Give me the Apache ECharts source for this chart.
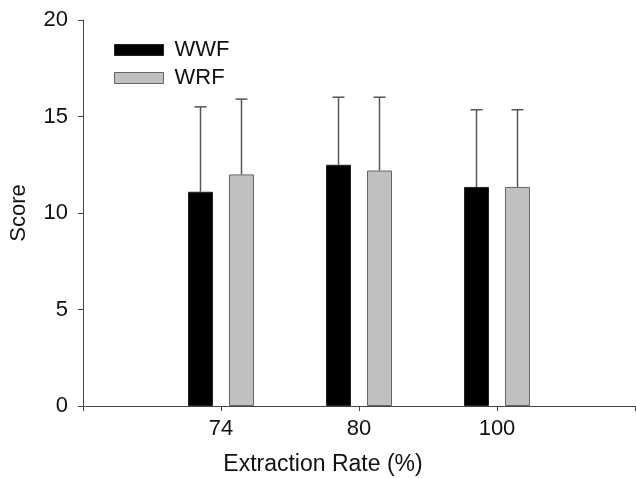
<!DOCTYPE html>
<html>
<head>
<meta charset="utf-8">
<script src="https://cdn.jsdelivr.net/npm/echarts@6/dist/echarts.min.js"></script>
<style>
  html, body { margin: 0; padding: 0; background: #fff; }
  #chart { width: 636px; height: 478px; }
</style>
</head>
<body>
<div id="chart"></div>
<script>
// extraction rates (%)
const categories = ['74', '80', '100'];
const wwfMean = [11.1, 12.5, 11.35];
const wwfSd = [4.4, 3.5, 4.0];
const wrfMean = [12.0, 12.2, 11.35];
const wrfSd = [3.9, 3.8, 4.0];
const yTicks = [0, 5, 10, 15, 20];

const barWidth = 25;
const barGap = 16;
const font = 'Liberation Sans, Arial, sans-serif';
const fontSize = 22;

// pad with empty slots at both ends so the axis has ticks at the edges
const axisData = [''].concat(categories, ['']);
const pad = arr => [null].concat(arr, [null]);

const errorSeries = (mean, sd, shift) => ({
  type: 'custom',
  silent: true,
  z: 3,
  data: mean.map((m, i) => [i + 1, m, m + sd[i]]),
  renderItem: (params, api) => {
    const low = api.coord([api.value(0), api.value(1)]);
    const high = api.coord([api.value(0), api.value(2)]);
    const x = low[0] + shift;
    const style = {stroke: '#555', lineWidth: 1.5};
    return {
      type: 'group',
      children: [
        {type: 'line', shape: {x1: x, y1: low[1], x2: x, y2: high[1]}, style},
        {type: 'line', shape: {x1: x - 6, y1: high[1], x2: x + 6, y2: high[1]}, style}
      ]
    };
  }
});

const chart = echarts.init(document.getElementById('chart'));
chart.setOption({
  animation: false,
  textStyle: {fontFamily: font},
  grid: {left: 83, right: 1, top: 20, bottom: 72, containLabel: false, outerBoundsMode: 'none'},
  legend: {
    orient: 'vertical',
    left: 114,
    top: 39,
    padding: 0,
    icon: 'rect',
    itemWidth: 49,
    itemHeight: 11,
    itemGap: 6,
    textStyle: {fontSize: fontSize, lineHeight: 22, color: '#111', fontFamily: font, padding: [0, 0, 0, 6]},
    data: [
      {name: 'WWF', itemStyle: {color: '#000', borderColor: '#222', borderWidth: 1}},
      {name: 'WRF', itemStyle: {color: '#c0c0c0', borderColor: '#666', borderWidth: 1}}
    ]
  },
  xAxis: {
    type: 'category',
    data: axisData,
    boundaryGap: false,
    name: 'Extraction Rate (%)',
    nameLocation: 'middle',
    nameGap: 47,
    nameTextStyle: {fontSize: 23, color: '#111', padding: [0, 72, 0, 0]},
    axisLine: {lineStyle: {color: '#444', width: 1}},
    axisTick: {length: 5, lineStyle: {color: '#444'}, interval: 0},
    axisLabel: {interval: 0, fontSize: fontSize, color: '#111', margin: 12}
  },
  yAxis: {
    type: 'value',
    min: yTicks[0],
    max: yTicks[yTicks.length - 1],
    interval: 5,
    name: 'Score',
    nameLocation: 'middle',
    nameGap: 53,
    nameTextStyle: {fontSize: fontSize, color: '#111'},
    splitLine: {show: false},
    axisLine: {show: true, lineStyle: {color: '#444', width: 1}},
    axisTick: {show: true, length: 5, lineStyle: {color: '#444'}},
    axisLabel: {fontSize: fontSize, color: '#111', margin: 15}
  },
  series: [
    {
      name: 'WWF',
      type: 'bar',
      data: pad(wwfMean),
      barWidth: barWidth,
      barGap: (barGap / barWidth * 100) + '%',
      itemStyle: {color: '#000', borderColor: '#222', borderWidth: 1}
    },
    {
      name: 'WRF',
      type: 'bar',
      data: pad(wrfMean),
      barWidth: barWidth,
      itemStyle: {color: '#c0c0c0', borderColor: '#666', borderWidth: 1}
    },
    errorSeries(wwfMean, wwfSd, -(barWidth + barGap) / 2),
    errorSeries(wrfMean, wrfSd, (barWidth + barGap) / 2)
  ]
});
</script>
</body>
</html>
